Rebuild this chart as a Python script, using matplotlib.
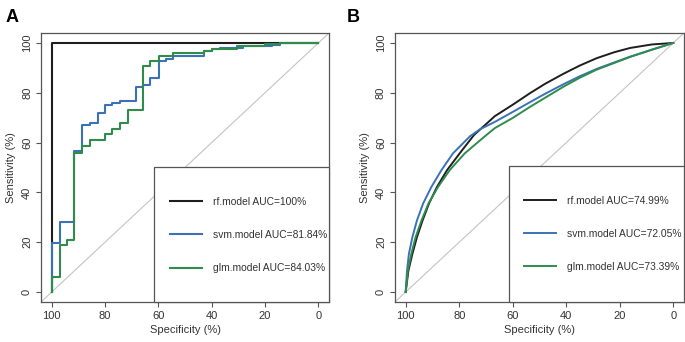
import matplotlib
matplotlib.use("Agg")
import matplotlib.pyplot as plt
from matplotlib.patches import Rectangle

plt.rcParams['font.family'] = ['Liberation Sans', 'DejaVu Sans']

# panel A - empirical ROC steps (specificity, sensitivity), in %
rf_spec_a = [100, 0]
rf_sens_a = [0, 100]
svm_spec_a = [100, 97.0, 91.5, 88.6, 85.7, 82.7, 80.0, 77.2, 74.2, 68.5, 65.8,
              63.0, 59.9, 57.2, 54.4, 42.9, 40.0, 36.9, 28.1, 17.5, 14.4, 0]
svm_sens_a = [0, 19.6, 28.1, 56.5, 67.2, 67.9, 71.9, 75.1, 75.9, 76.7, 82.5,
              83.3, 86.0, 92.6, 93.6, 94.7, 96.8, 97.4, 98.1, 98.7, 99.3, 100]
glm_spec_a = [100, 97.0, 94.2, 91.5, 88.6, 85.7, 80.0, 77.2, 74.2, 71.4, 65.8,
              63.0, 59.9, 54.4, 42.9, 39.8, 30.6, 20.0, 14.4, 0]
glm_sens_a = [0, 6.2, 18.8, 20.8, 55.8, 58.6, 61.2, 63.6, 65.3, 68.0, 73.1,
              90.6, 92.6, 94.8, 96.0, 96.8, 97.6, 98.7, 99.6, 100]
labels_a = ["rf.model AUC=100%", "svm.model AUC=81.84%", "glm.model AUC=84.03%"]

rf_spec_b = [100, 99.0, 97.5, 95.8, 93.7, 91.3, 88.3, 84.5, 79.8, 74.5, 66.7,
             60.0, 53.6, 47.9, 41.1, 35.0, 28.6, 22.0, 16.1, 8.0, 0]
rf_sens_b = [0, 8.5, 15.3, 22.0, 28.7, 35.5, 42.2, 49.0, 55.7, 63.0, 70.6,
             75.2, 79.8, 83.6, 87.6, 90.9, 93.9, 96.3, 98.0, 99.4, 100]
svm_spec_b = [100, 99.5, 98.8, 97.5, 95.8, 93.5, 90.4, 86.6, 82.3, 76.0, 72.3,
              66.7, 60.0, 53.6, 47.9, 41.1, 35.0, 28.6, 22.0, 16.1, 8.0, 0]
svm_sens_b = [0, 8.5, 15.3, 22.0, 28.7, 35.5, 42.2, 49.0, 55.7, 62.5, 65.3,
              68.3, 72.3, 76.2, 79.6, 83.4, 86.6, 89.6, 92.2, 94.5, 97.3, 100]
glm_spec_b = [100, 99.2, 97.9, 96.3, 94.1, 91.5, 87.9, 83.5, 77.9, 71.0, 66.7,
              60.0, 53.6, 47.9, 41.1, 35.0, 28.6, 22.0, 16.1, 8.0, 0]
glm_sens_b = [0, 8.5, 15.3, 22.0, 28.7, 35.5, 42.2, 49.0, 55.7, 62.0, 65.8,
              69.9, 74.3, 78.0, 82.4, 86.0, 89.3, 92.0, 94.4, 97.3, 100]
labels_b = ["rf.model AUC=74.99%", "svm.model AUC=72.05%", "glm.model AUC=73.39%"]

colors = ["#1e1e1e", "#3b72b6", "#2f8c4c"]
txt = "#333333"

fig = plt.figure(figsize=(6.85, 3.42), dpi=100)
ax_a = fig.add_axes([0.0599, 0.117, 0.4204, 0.7865])
ax_b = fig.add_axes([0.5766, 0.117, 0.4219, 0.7865])


def style(ax):
    ax.set_xlim(104, -4)
    ax.set_ylim(-4, 104)
    ax.set_xticks([100, 80, 60, 40, 20, 0])
    ax.set_yticks([0, 20, 40, 60, 80, 100])
    for lab in ax.get_yticklabels():
        lab.set_rotation(90)
        lab.set_va('center')
    ax.tick_params(direction='out', length=3.5, width=0.8, colors='#555555',
                   labelcolor=txt, labelsize=8, pad=3)
    for s in ax.spines.values():
        s.set_color('#555555')
        s.set_linewidth(0.9)
    ax.set_xlabel("Specificity (%)", fontsize=8, color=txt, labelpad=3)
    ax.set_ylabel("Sensitivity (%)", fontsize=8, color=txt, labelpad=4)
    ax.axline((100, 0), (0, 100), color='#c4c4c4', lw=0.8, zorder=1)


def legend_box(ax, handles, labels, x0, y0, xl, ym):
    ax.add_patch(Rectangle((x0, 0), 1 - x0, y0, transform=ax.transAxes,
                           facecolor='white', edgecolor='#555555', lw=0.9,
                           zorder=5, clip_on=False))
    leg = ax.legend(handles, labels, loc='center left', bbox_to_anchor=(xl, ym),
                    frameon=False, fontsize=7.4, handlelength=3.1,
                    handletextpad=1.1, labelspacing=2.25, borderpad=0,
                    borderaxespad=0)
    leg.set_zorder(6)
    for t in leg.get_texts():
        t.set_color(txt)


style(ax_a)
h = []
for sp, se, c in [(rf_spec_a, rf_sens_a, colors[0]),
                  (svm_spec_a, svm_sens_a, colors[1]),
                  (glm_spec_a, glm_sens_a, colors[2])]:
    ln, = ax_a.plot(sp, se, drawstyle='steps-pre', color=c, lw=1.5, zorder=3)
    h.append(ln)
legend_box(ax_a, h, labels_a, 0.392, 0.502, 0.448, 0.249)

style(ax_b)
h = []
for sp, se, c in [(rf_spec_b, rf_sens_b, colors[0]),
                  (svm_spec_b, svm_sens_b, colors[1]),
                  (glm_spec_b, glm_sens_b, colors[2])]:
    ln, = ax_b.plot(sp, se, color=c, lw=1.4, zorder=3)
    h.append(ln)
legend_box(ax_b, h, labels_b, 0.394, 0.506, 0.446, 0.253)

fig.text(0.008, 0.975, "A", fontsize=13, fontweight='bold', va='top', ha='left')
fig.text(0.506, 0.975, "B", fontsize=13, fontweight='bold', va='top', ha='left')

fig.savefig("out.png", dpi=100)
